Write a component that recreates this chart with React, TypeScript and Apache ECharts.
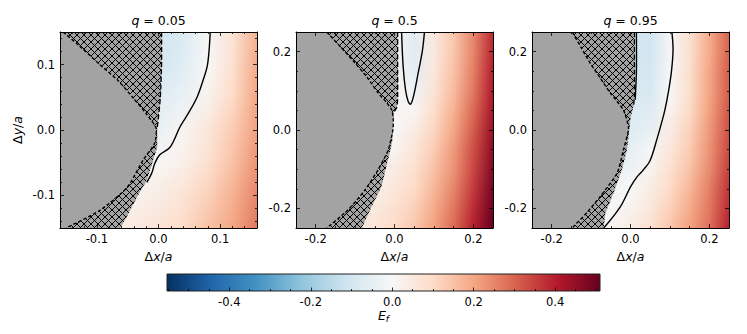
import React, { useEffect, useRef } from 'react';
import * as echarts from 'echarts';

const FONT = 'DejaVu Sans';
const GRAY = '#a3a3a3';

// ---------- panel meta ----------
const Q_LABELS = ['0.05', '0.5', '0.95'];
const X_EXT = [[-0.16, 0.16], [-0.25, 0.25], [-0.25, 0.25]];
const Y_EXT = [[-0.15, 0.15], [-0.25, 0.25], [-0.25, 0.25]];
const MAJOR_TICKS = [[-0.1, 0, 0.1], [-0.2, 0, 0.2], [-0.2, 0, 0.2]];
const MINOR_STEP = [0.02, 0.05, 0.05];

// ---------- colorbar ----------
const CB_MIN = -0.553;
const CB_MAX = 0.51;
const CB_TICKS = [-0.4, -0.2, 0, 0.2, 0.4];
const CB_MINOR_STEP = 0.05;
const RDBU_R = ['#053061', '#2166ac', '#4393c3', '#92c5de', '#d1e5f0', '#f7f7f7', '#fddbc7', '#f4a582', '#d6604d', '#b2182b', '#67001f'];

// ---------- field values E_f ----------
const COLS_1 = [-0.16, -0.12, -0.08, -0.04, 0, 0.04, 0.08, 0.12, 0.16];
const ROWS_1 = [0.15, 0.1, 0.05, 0, -0.05, -0.1, -0.15];
const E_1 = [
  [null, null, null, null, -0.11, -0.08, -0.01, 0.07, 0.18],
  [null, null, null, null, -0.1, -0.07, 0.0, 0.08, 0.19],
  [null, null, null, null, -0.07, -0.04, 0.02, 0.1, 0.2],
  [null, null, null, -0.05, -0.04, 0.01, 0.06, 0.13, 0.21],
  [null, null, null, -0.02, 0.005, 0.03, 0.08, 0.15, 0.23],
  [null, null, -0.01, 0.02, 0.04, 0.07, 0.12, 0.18, 0.25],
  [null, null, 0.03, 0.05, 0.07, 0.1, 0.15, 0.2, 0.27],
];

const COLS_2 = [-0.1, -0.05, 0, 0.05, 0.1, 0.15, 0.2, 0.25];
const ROWS_2 = [0.25, 0.2, 0.15, 0.1, 0.05, 0, -0.05, -0.1, -0.15, -0.2, -0.25];
const E_2 = [
  [null, null, 0.02, -0.07, 0.05, 0.14, 0.25, 0.38],
  [null, null, 0.02, -0.07, 0.05, 0.14, 0.25, 0.39],
  [null, null, 0.02, -0.06, 0.06, 0.15, 0.26, 0.4],
  [null, null, 0.02, -0.03, 0.07, 0.16, 0.27, 0.41],
  [null, null, 0.01, 0.01, 0.09, 0.18, 0.29, 0.42],
  [null, null, 0.0, 0.04, 0.11, 0.2, 0.31, 0.44],
  [null, null, 0.02, 0.06, 0.13, 0.22, 0.33, 0.46],
  [null, 0.02, 0.04, 0.08, 0.15, 0.23, 0.34, 0.47],
  [null, 0.03, 0.06, 0.1, 0.17, 0.25, 0.36, 0.49],
  [0.03, 0.05, 0.08, 0.12, 0.19, 0.27, 0.38, 0.5],
  [0.05, 0.07, 0.1, 0.14, 0.21, 0.29, 0.4, 0.51],
];

const COLS_3 = [-0.1, -0.05, 0, 0.05, 0.1, 0.15, 0.2, 0.25];
const ROWS_3 = [0.25, 0.2, 0.15, 0.1, 0.05, 0, -0.05, -0.1, -0.15, -0.2, -0.25];
const E_3 = [
  [null, null, -0.09, -0.11, -0.01, 0.08, 0.19, 0.3],
  [null, null, -0.1, -0.11, -0.01, 0.08, 0.19, 0.3],
  [null, null, -0.1, -0.1, -0.005, 0.09, 0.2, 0.31],
  [null, null, -0.09, -0.09, 0.0, 0.09, 0.2, 0.31],
  [null, null, -0.08, -0.07, 0.02, 0.1, 0.21, 0.32],
  [null, null, -0.07, -0.05, 0.04, 0.12, 0.22, 0.33],
  [null, -0.06, -0.05, -0.01, 0.06, 0.13, 0.23, 0.34],
  [null, -0.04, -0.03, 0.02, 0.08, 0.15, 0.24, 0.35],
  [null, -0.02, 0.0, 0.04, 0.1, 0.17, 0.26, 0.37],
  [-0.03, -0.01, 0.02, 0.06, 0.12, 0.19, 0.27, 0.38],
  [-0.02, 0.01, 0.04, 0.08, 0.14, 0.21, 0.28, 0.4],
];

// ---------- excluded (gray) region boundaries, top -> bottom ----------
const GRAY_1 = [[-0.155, 0.15], [-0.13, 0.13], [-0.095, 0.1], [-0.065, 0.075], [-0.041, 0.049], [-0.02, 0.025], [-0.004, 0.003], [-0.006, -0.02], [-0.025, -0.046], [-0.051, -0.088], [-0.095, -0.123], [-0.15, -0.15]];
const GRAY_2 = [[-0.172, 0.25], [-0.135, 0.21], [-0.1, 0.171], [-0.07, 0.135], [-0.041, 0.094], [-0.02, 0.07], [-0.007, 0.051], [-0.003, 0.025], [-0.004, 0.0], [-0.016, -0.051], [-0.042, -0.102], [-0.075, -0.153], [-0.118, -0.204], [-0.172, -0.25]];
const GRAY_3 = [[-0.148, 0.25], [-0.125, 0.21], [-0.102, 0.17], [-0.075, 0.13], [-0.051, 0.094], [-0.018, 0.051], [-0.005, 0.004], [-0.018, -0.051], [-0.034, -0.11], [-0.077, -0.17], [-0.11, -0.21], [-0.148, -0.25]];

// ---------- hatched region right boundary (upper dashed edge + lower edge) ----------
const EDGE_1 = [[0.005, 0.15], [0.005, 0.1], [0.003, 0.05], [0.0, 0.02], [-0.002, 0.003]];
const LOWER_1 = [[-0.002, -0.026], [-0.01, -0.05], [-0.019, -0.077], [-0.035, -0.103], [-0.05, -0.13], [-0.062, -0.15]];
const EDGE_2 = [[0.008, 0.25], [0.008, 0.15], [0.008, 0.08], [0.006, 0.058], [-0.002, 0.045]];
const LOWER_2 = [[-0.003, 0.02], [-0.006, -0.03], [-0.012, -0.06], [-0.02, -0.09], [-0.033, -0.145], [-0.058, -0.196], [-0.083, -0.25]];
const EDGE_3 = [[0.01, 0.25], [0.01, 0.15], [0.01, 0.09], [0.008, 0.062]];
const LOWER_3 = [[0.0, 0.03], [-0.003, 0.0], [-0.009, -0.051], [-0.022, -0.102], [-0.043, -0.161], [-0.064, -0.213], [-0.068, -0.25]];

// ---------- E_f = 0 contours ----------
const CONTOURS_1 = [
  [[0.084, 0.15], [0.082, 0.12], [0.079, 0.097], [0.072, 0.075], [0.063, 0.051], [0.05, 0.028], [0.035, 0.005], [0.019, -0.026], [0.002, -0.038], [-0.006, -0.051], [-0.011, -0.066], [-0.019, -0.08]],
];
const CONTOURS_2 = [
  [[0.018, 0.25], [0.022, 0.161], [0.028, 0.102], [0.035, 0.072], [0.041, 0.066], [0.048, 0.085], [0.06, 0.145], [0.071, 0.204], [0.076, 0.25]],
];
const CONTOURS_3 = [
  [[0.105, 0.25], [0.108, 0.204], [0.104, 0.15], [0.097, 0.102], [0.087, 0.05], [0.076, 0.008], [0.068, -0.02], [0.05, -0.077], [0.03, -0.105], [0.017, -0.119], [0, -0.145], [-0.026, -0.196], [-0.068, -0.25]],
  [[0.015, 0.25], [0.015, 0.15], [0.013, 0.1], [0.012, 0.077]],
];

const PANELS = [
  { cols: COLS_1, rows: ROWS_1, vals: E_1, gray: GRAY_1, edge: EDGE_1, lower: LOWER_1, contours: CONTOURS_1 },
  { cols: COLS_2, rows: ROWS_2, vals: E_2, gray: GRAY_2, edge: EDGE_2, lower: LOWER_2, contours: CONTOURS_2 },
  { cols: COLS_3, rows: ROWS_3, vals: E_3, gray: GRAY_3, edge: EDGE_3, lower: LOWER_3, contours: CONTOURS_3 },
];

const GRID_BOX = [
  { left: 60, top: 32, width: 197, height: 196 },
  { left: 296, top: 32, width: 197, height: 196 },
  { left: 532, top: 32, width: 197, height: 196 },
];
const CB_BOX = { left: 167, top: 274, width: 433, height: 17 };

// ---------- helpers ----------
const RGB = RDBU_R.map((h) => [parseInt(h.slice(1, 3), 16), parseInt(h.slice(3, 5), 16), parseInt(h.slice(5, 7), 16)]);
function cmap(t: number) {
  t = Math.max(0, Math.min(1, t));
  const s = t * (RGB.length - 1);
  const i = Math.min(Math.floor(s), RGB.length - 2);
  const f = s - i;
  const a = RGB[i], b = RGB[i + 1];
  const c = [0, 1, 2].map((k) => Math.round(a[k] + (b[k] - a[k]) * f));
  return `rgb(${c[0]},${c[1]},${c[2]})`;
}
// two-slope norm centred at 0
function normT(v: number) {
  return v < 0 ? 0.5 * (1 - v / CB_MIN) : 0.5 + 0.5 * (v / CB_MAX);
}
function colorOf(v: number) {
  return cmap(normT(v));
}
function steps(min: number, max: number, step: number, exclude: number[]) {
  const out: number[] = [];
  const n0 = Math.ceil(min / step - 1e-9);
  const n1 = Math.floor(max / step + 1e-9);
  for (let n = n0; n <= n1; n++) {
    const v = +(n * step).toFixed(4);
    if (!exclude.some((m) => Math.abs(m - v) < 1e-9)) out.push(v);
  }
  return out;
}
const fmt = (v: number) => (Math.abs(v) < 1e-9 ? '0.0' : v.toFixed(1));

const RICH = {
  n: { fontFamily: FONT, fontSize: 12.5, color: '#000' },
  i: { fontFamily: FONT, fontSize: 12.5, fontStyle: 'italic', color: '#000' },
  e: { fontFamily: FONT, fontSize: 12.5, fontStyle: 'italic', color: '#000', verticalAlign: 'top', lineHeight: 15 },
  s: { fontFamily: FONT, fontSize: 9, fontStyle: 'italic', color: '#000', verticalAlign: 'bottom', lineHeight: 15 },
};

function axis(g: number, pos: string, min: number, max: number, ticks: number[], major: boolean, labels: boolean, name?: string, nameGap?: number) {
  const o: any = {
    type: 'value', gridIndex: g, position: pos, min, max, z: 10,
    axisLine: { show: major, onZero: false, lineStyle: { color: '#000', width: 1 } },
    axisTick: { show: true, inside: true, length: major ? 4 : 2, customValues: ticks, lineStyle: { color: '#000', width: 0.8 } },
    axisLabel: { show: labels, customValues: ticks, formatter: (v: number) => fmt(v), color: '#000', fontFamily: FONT, fontSize: 11.5, margin: 5 },
    splitLine: { show: false },
  };
  if (name) {
    o.name = name;
    o.nameLocation = 'middle';
    o.nameGap = nameGap;
    o.nameTextStyle = { rich: RICH };
  }
  return o;
}

export default function App() {
  const ref = useRef<HTMLDivElement>(null);
  useEffect(() => {
    if (!ref.current) return;
    const chart = echarts.init(ref.current, undefined, { renderer: 'svg' });

    // hatch tile
    const T = 7;
    const cv = document.createElement('canvas');
    cv.width = T; cv.height = T;
    const ctx = cv.getContext('2d')!;
    ctx.fillStyle = GRAY; ctx.fillRect(0, 0, T, T);
    ctx.strokeStyle = '#000'; ctx.lineWidth = 1;
    ctx.beginPath();
    for (const k of [-T, 0, T]) { ctx.moveTo(k, 0); ctx.lineTo(k + T, T); ctx.moveTo(k, T); ctx.lineTo(k + T, 0); }
    ctx.stroke();
    const hatch = { image: cv.toDataURL(), repeat: 'repeat', imageWidth: T, imageHeight: T };

    const grids: any[] = GRID_BOX.map((b) => ({ ...b, containLabel: false }));
    grids.push({ ...CB_BOX });
    const xAxes: any[] = [];
    const yAxes: any[] = [];
    const series: any[] = [];

    PANELS.forEach((P, g) => {
      const [x0, x1] = X_EXT[g];
      const [y0, y1] = Y_EXT[g];
      const maj = MAJOR_TICKS[g];
      const minX = steps(x0, x1, MINOR_STEP[g], maj);
      const minY = steps(y0, y1, MINOR_STEP[g], maj);
      xAxes.push(axis(g, 'bottom', x0, x1, maj, true, true, '{n|Δ}{i|x}{n|/}{i|a}', 18));
      xAxes.push(axis(g, 'bottom', x0, x1, minX, false, false));
      xAxes.push(axis(g, 'top', x0, x1, maj, true, false, `{i|q}{n| = ${Q_LABELS[g]}}`, 5));
      xAxes.push(axis(g, 'top', x0, x1, minX, false, false));
      yAxes.push(axis(g, 'left', y0, y1, maj, true, true, g === 0 ? '{n|Δ}{i|y}{n|/}{i|a}' : undefined, 36));
      yAxes.push(axis(g, 'left', y0, y1, minY, false, false));
      yAxes.push(axis(g, 'right', y0, y1, maj, true, false));
      yAxes.push(axis(g, 'right', y0, y1, minY, false, false));

      const base = { type: 'custom', coordinateSystem: 'cartesian2d', xAxisIndex: 4 * g, yAxisIndex: 4 * g, clip: true, silent: true };
      // field: one item per band between consecutive rows, shaded smoothly
      series.push({
        ...base, z: 1,
        data: P.rows.slice(0, -1).map((y) => [x0, y]),
        renderItem: (params: any, api: any) => {
          const i = params.dataIndex;
          const a = api.coord([x0, P.rows[i]]);
          const b = api.coord([x1, P.rows[i + 1]]);
          const h = b[1] - a[1];
          const n = Math.max(2, Math.ceil(h / 2.5));
          const children: any[] = [];
          for (let k = 0; k < n; k++) {
            const f = (k + 0.5) / n;
            const stops: any[] = [];
            P.cols.forEach((x, j) => {
              const va = P.vals[i][j];
              const vb = P.vals[i + 1][j];
              if (va === null && vb === null) return;
              const ca = colorOf((va === null ? vb : va) as number);
              const cb = colorOf((vb === null ? va : vb) as number);
              const pa = ca.match(/\d+/g)!.map(Number);
              const pb = cb.match(/\d+/g)!.map(Number);
              const c = [0, 1, 2].map((q) => Math.round(pa[q] + (pb[q] - pa[q]) * f));
              stops.push({ offset: (x - x0) / (x1 - x0), color: `rgb(${c[0]},${c[1]},${c[2]})` });
            });
            children.push({
              type: 'rect',
              shape: { x: a[0], y: a[1] + (h * k) / n - 0.4, width: b[0] - a[0], height: h / n + 0.8 },
              style: { fill: new echarts.graphic.LinearGradient(0, 0, 1, 0, stops) },
            });
          }
          return { type: 'group', children };
        },
      });
      // gray region
      const grayPoly = [[x0 - 0.05, y1 + 0.05], [P.gray[0][0], y1 + 0.05], ...P.gray, [P.gray[P.gray.length - 1][0], y0 - 0.05], [x0 - 0.05, y0 - 0.05]];
      series.push({
        ...base, z: 2, data: [[x0, 0]],
        renderItem: (_p: any, api: any) => ({ type: 'polygon', shape: { points: grayPoly.map((p) => api.coord(p)) }, style: { fill: GRAY } }),
      });
      // hatched region
      const hatchPoly = [...P.edge, ...P.lower, ...P.gray.slice().reverse()];
      series.push({
        ...base, z: 3, data: [[x0, 0]],
        renderItem: (_p: any, api: any) => ({ type: 'polygon', shape: { points: hatchPoly.map((p) => api.coord(p)) }, style: { fill: hatch as any } }),
      });
      // dashed boundaries
      series.push({
        ...base, z: 4, data: [[x0, 0]],
        renderItem: (_p: any, api: any) => ({
          type: 'group',
          children: [
            { type: 'polyline', shape: { points: P.gray.map((p) => api.coord(p)), smooth: 0.2 }, style: { stroke: '#000', lineWidth: 1.4, lineDash: [3.5, 2], fill: null } },
            { type: 'polyline', shape: { points: P.edge.map((p) => api.coord(p)), smooth: 0.2 }, style: { stroke: '#000', lineWidth: 1.3, lineDash: [5, 2.5], fill: null } },
          ],
        }),
      });
      // contours
      series.push({
        ...base, z: 5, data: [[x0, 0]],
        renderItem: (_p: any, api: any) => ({
          type: 'group',
          children: P.contours.map((c) => ({ type: 'polyline', shape: { points: c.map((p) => api.coord(p)), smooth: 0.35 }, style: { stroke: '#000', lineWidth: 1.4, fill: null } })),
        }),
      });
    });

    // colorbar
    const cbMinor = steps(-0.55, 0.5, CB_MINOR_STEP, CB_TICKS);
    const cbX = axis(3, 'bottom', CB_MIN, CB_MAX, CB_TICKS, true, true, '{e|E}{s|f}', 17);
    cbX.axisLine.show = false;
    cbX.axisTick.length = 3.5;
    cbX.axisLabel.margin = 5;
    xAxes.push(cbX);
    const cbXm = axis(3, 'bottom', CB_MIN, CB_MAX, cbMinor, false, false);
    xAxes.push(cbXm);
    yAxes.push({ type: 'value', gridIndex: 3, min: 0, max: 1, show: false });
    series.push({
      type: 'custom', coordinateSystem: 'cartesian2d', xAxisIndex: 12, yAxisIndex: 12, clip: false, silent: true, z: 1,
      data: [[CB_MIN, 0]],
      renderItem: (_p: any, api: any) => {
        const a = api.coord([CB_MIN, 1]);
        const b = api.coord([CB_MAX, 0]);
        const stops = RDBU_R.map((c, k) => {
          const t = k / (RDBU_R.length - 1);
          const v = t < 0.5 ? CB_MIN * (1 - 2 * t) : CB_MAX * (2 * t - 1);
          return { offset: (v - CB_MIN) / (CB_MAX - CB_MIN), color: c };
        });
        return {
          type: 'rect',
          shape: { x: a[0], y: a[1], width: b[0] - a[0], height: b[1] - a[1] },
          style: { fill: new echarts.graphic.LinearGradient(0, 0, 1, 0, stops), stroke: '#222', lineWidth: 1 },
        };
      },
    });

    chart.setOption({
      animation: false,
      backgroundColor: '#fff',
      grid: grids,
      xAxis: xAxes,
      yAxis: yAxes,
      series,
    });
    return () => chart.dispose();
  }, []);
  return <div ref={ref} style={{ position: 'fixed', left: 0, top: 0, width: 747, height: 334, background: '#fff' }} />;
}
